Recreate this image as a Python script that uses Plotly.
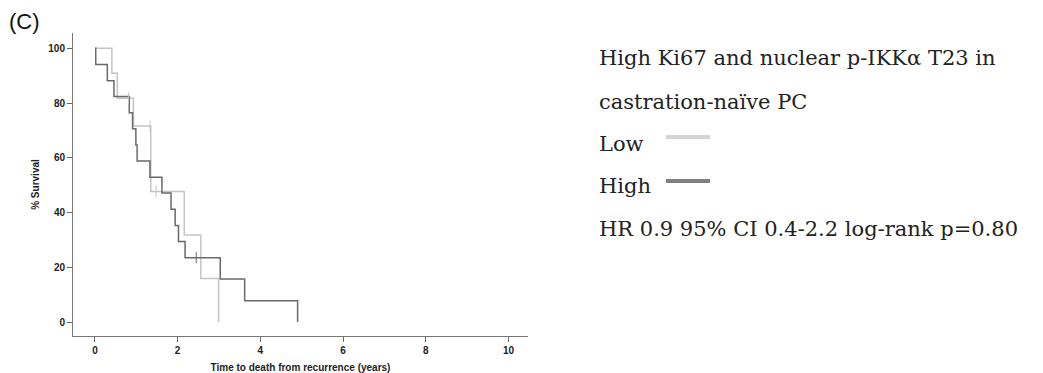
import plotly.graph_objects as go

# Kaplan-Meier step points (time in years, % surviving), drawn with hv steps
low_time = [0, 0.41, 0.54, 0.93, 1.35, 2.16, 2.56, 2.99]
low_surv = [100, 90.9, 81.8, 71.6, 47.7, 31.8, 15.9, 0]
low_cens_time = [0.81, 1.33, 1.48]
low_cens_surv = [81.8, 71.6, 47.7]

high_time = [0, 0.02, 0.30, 0.46, 0.83, 0.91, 0.99, 1.02, 1.33, 1.62, 1.84,
             1.94, 2.02, 2.18, 3.03, 3.62, 4.90]
high_surv = [100, 94.1, 88.2, 82.4, 76.5, 70.6, 64.7, 58.8, 52.9, 47.1, 41.2,
             35.3, 29.4, 23.5, 15.7, 7.8, 0]
high_cens_time = [2.45]
high_cens_surv = [23.5]

x_ticks = [0, 2, 4, 6, 8, 10]
y_ticks = [0, 20, 40, 60, 80, 100]

title_lines = ["High Ki67 and nuclear p-IKK\u03b1 T23 in", "castration-na\u00efve PC"]
group_names = ["Low", "High"]
stats_text = "HR 0.9 95% CI 0.4-2.2 log-rank p=0.80"

LOW_C = "#c4c4c4"
HIGH_C = "#6a6a6a"
LOW_LEG = "#d4d4d4"
HIGH_LEG = "#808080"

W, H = 1043, 373
ML, MR, MT, MB = 73, W - 528, 33, H - 336


def px(x):
    return (x - ML) / (W - ML - MR)


def py(y):
    return (H - MB - y) / (H - MT - MB)


fig = go.Figure()
fig.add_trace(go.Scatter(x=low_time, y=low_surv, mode="lines",
                         line=dict(shape="hv", color=LOW_C, width=1.5),
                         showlegend=False))
fig.add_trace(go.Scatter(x=high_time, y=high_surv, mode="lines",
                         line=dict(shape="hv", color=HIGH_C, width=1.5),
                         showlegend=False))
fig.add_trace(go.Scatter(x=low_cens_time, y=low_cens_surv, mode="markers",
                         marker=dict(symbol="line-ns-open", size=8, color=LOW_C,
                                     line=dict(color=LOW_C, width=1)),
                         showlegend=False))
fig.add_trace(go.Scatter(x=high_cens_time, y=high_cens_surv, mode="markers",
                         marker=dict(symbol="line-ns-open", size=8, color=HIGH_C,
                                     line=dict(color=HIGH_C, width=1)),
                         showlegend=False))

axis_font = dict(family="Arial, Liberation Sans, sans-serif", size=10,
                 color="#222", weight="bold")
title_font = dict(family="Arial, Liberation Sans, sans-serif", size=10,
                  color="#222", weight="bold")

fig.update_xaxes(range=[-0.53, 10.47], tickvals=x_ticks, ticks="outside",
                 ticklen=5, tickwidth=1, tickcolor="#666", showline=True,
                 linecolor="#777", linewidth=1, showgrid=False, zeroline=False,
                 tickfont=axis_font, automargin=False,
                 title=dict(text="Time to death from recurrence (years)",
                            font=title_font, standoff=17))
fig.update_yaxes(range=[-5.1, 105.6], tickvals=y_ticks, ticks="outside",
                 ticklen=5, tickwidth=1, tickcolor="#666", showline=True,
                 linecolor="#777", linewidth=1, showgrid=False, zeroline=False,
                 tickfont=axis_font, automargin=False,
                 title=dict(text="% Survival", font=title_font, standoff=6))

serif = dict(family="DejaVu Serif", size=21, color="#222")
ann = [
    dict(text="(C)", x=px(7), y=py(22), xanchor="left", yanchor="middle",
         font=dict(family="Arial, Liberation Sans, sans-serif", size=22, color="#111")),
    dict(text=title_lines[0], x=px(597), y=py(58), xanchor="left", yanchor="middle", font=serif),
    dict(text=title_lines[1], x=px(597), y=py(102), xanchor="left", yanchor="middle", font=serif),
    dict(text=group_names[0], x=px(597), y=py(144), xanchor="left", yanchor="middle", font=serif),
    dict(text=group_names[1], x=px(597), y=py(186), xanchor="left", yanchor="middle", font=serif),
    dict(text=stats_text, x=px(597), y=py(229), xanchor="left", yanchor="middle", font=serif),
]
for a in ann:
    a.update(xref="paper", yref="paper", showarrow=False)

shapes = [
    dict(type="line", xref="paper", yref="paper", x0=px(666), x1=px(710),
         y0=py(137), y1=py(137), line=dict(color=LOW_LEG, width=4)),
    dict(type="line", xref="paper", yref="paper", x0=px(666), x1=px(710),
         y0=py(181), y1=py(181), line=dict(color=HIGH_LEG, width=4)),
]

fig.update_layout(width=W, height=H, margin=dict(l=ML, r=MR, t=MT, b=MB),
                  paper_bgcolor="white", plot_bgcolor="white",
                  annotations=ann, shapes=shapes, showlegend=False)

fig.write_html("out.html")
